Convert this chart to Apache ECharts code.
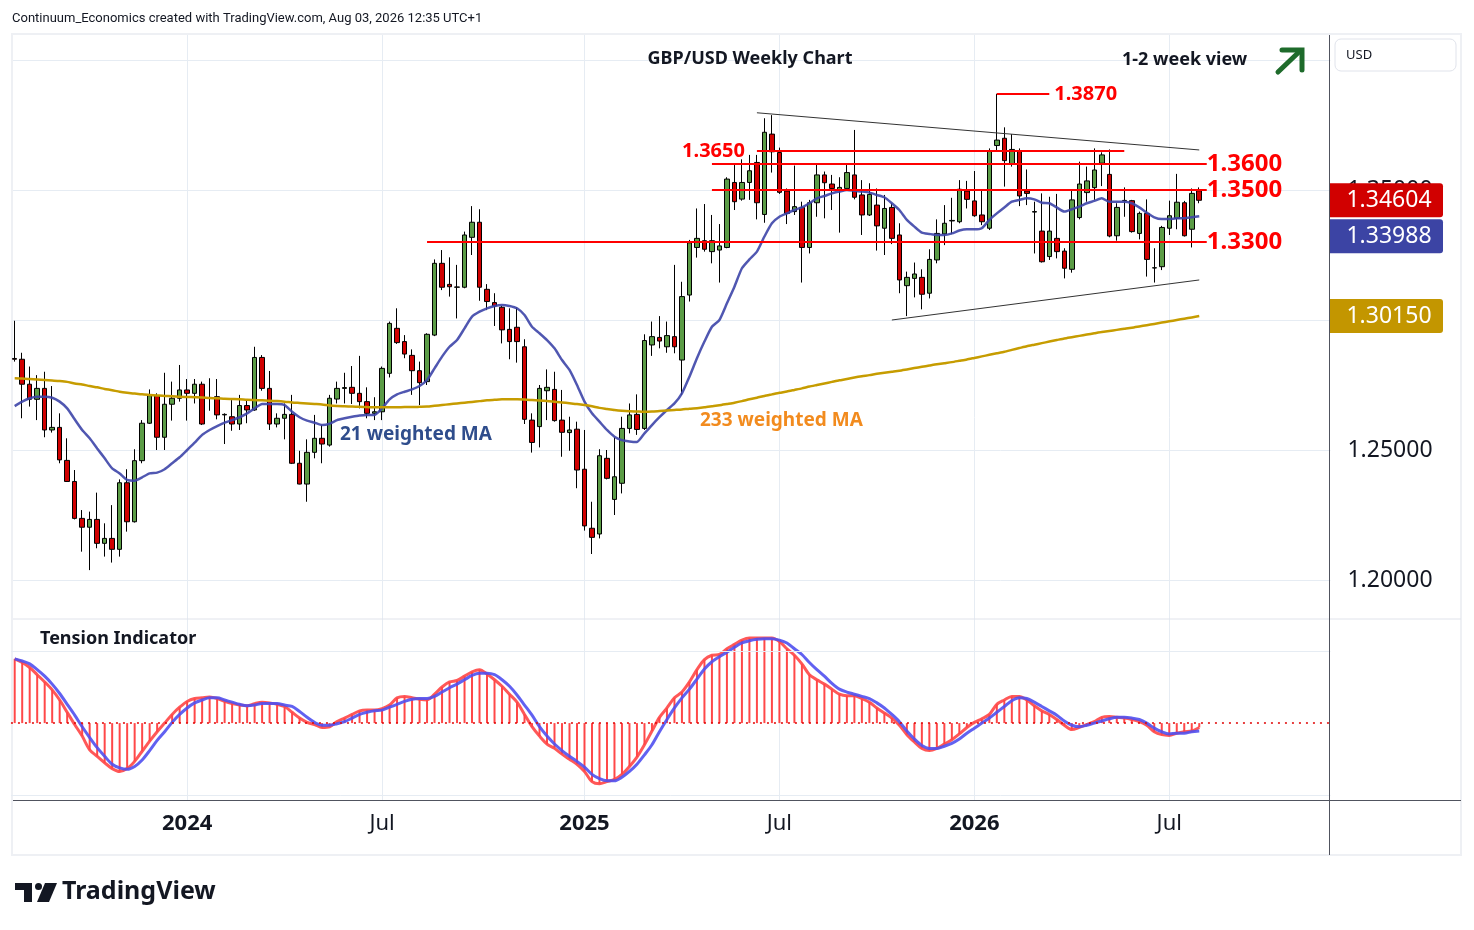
<!DOCTYPE html>
<html>
<head>
<meta charset="utf-8">
<title>GBP/USD Weekly Chart</title>
<script src="https://cdn.jsdelivr.net/npm/echarts@6/dist/echarts.min.js"></script>
<style>
  html, body { margin: 0; padding: 0; background: #fff; }
  #chart { width: 1474px; height: 930px; }
</style>
</head>
<body>
<div id="chart"></div>
<script>
// weekly candles, first week starts 2023-07-24
const opens = [
  1.2852,1.2849,1.2753,1.2695,1.2737,1.2577,1.2587,1.2460,1.2379,1.2237,
  1.2203,1.2233,1.2141,1.2160,1.2118,1.2374,1.2224,1.2459,1.2603,1.2709,
  1.2549,1.2676,1.2699,1.2731,1.2718,1.2753,1.2700,1.2705,1.2635,1.2628,
  1.2600,1.2671,1.2654,1.2856,1.2737,1.2600,1.2622,1.2637,1.2449,1.2369,
  1.2491,1.2545,1.2519,1.2696,1.2737,1.2741,1.2718,1.2686,1.2641,1.2647,
  1.2795,1.2968,1.2917,1.2864,1.2805,1.2763,1.2942,1.3218,1.3137,1.3126,
  1.3126,1.3318,1.3376,1.3118,1.3067,1.3049,1.2964,1.2972,1.2897,1.2615,
  1.2590,1.2728,1.2733,1.2615,1.2567,1.2580,1.2426,1.2199,1.2177,1.2468,
  1.2310,1.2372,1.2583,1.2637,1.2583,1.2904,1.2933,1.2897,1.2936,1.2846,
  1.3096,1.3279,1.3305,1.3263,1.3269,1.3279,1.3529,1.3465,1.3529,1.3606,
  1.3406,1.3715,1.3644,1.3496,1.3417,1.3433,1.3279,1.3451,1.3558,1.3523,
  1.3500,1.3506,1.3558,1.3481,1.3404,1.3442,1.3353,1.3433,1.3327,1.3132,
  1.3160,1.3164,1.3103,1.3231,1.3331,1.3381,1.3378,1.3496,1.3458,1.3404,
  1.3353,1.3671,1.3699,1.3599,1.3650,1.3496,1.3415,1.3342,1.3244,1.3314,
  1.3265,1.3195,1.3394,1.3490,1.3509,1.3603,1.3560,1.3324,1.3459,1.3459,
  1.3333,1.3410,1.3200,1.3205,1.3353,1.3391,1.3451,1.3349,1.3497
];
const closes = [
  1.2849,1.2753,1.2695,1.2737,1.2577,1.2587,1.2462,1.2379,1.2237,1.2203,
  1.2233,1.2141,1.2160,1.2118,1.2374,1.2224,1.2459,1.2603,1.2709,1.2549,
  1.2676,1.2699,1.2731,1.2718,1.2753,1.2600,1.2702,1.2635,1.2637,1.2600,
  1.2671,1.2654,1.2856,1.2737,1.2600,1.2622,1.2637,1.2449,1.2369,1.2491,
  1.2545,1.2523,1.2699,1.2737,1.2740,1.2718,1.2686,1.2641,1.2647,1.2814,
  1.2987,1.2913,1.2869,1.2805,1.2759,1.2945,1.3218,1.3126,1.3128,1.3127,
  1.3327,1.3376,1.3126,1.3071,1.3054,1.2962,1.2917,1.2917,1.2618,1.2529,
  1.2737,1.2741,1.2613,1.2568,1.2577,1.2423,1.2208,1.2164,1.2478,1.2391,
  1.2397,1.2583,1.2635,1.2579,1.2921,1.2936,1.2919,1.2940,1.2897,1.3090,
  1.3297,1.3314,1.3272,1.3305,1.3285,1.3542,1.3455,1.3529,1.3574,1.3451,
  1.3722,1.3647,1.3491,1.3410,1.3436,1.3279,1.3451,1.3558,1.3528,1.3506,
  1.3510,1.3567,1.3472,1.3404,1.3483,1.3362,1.3429,1.3314,1.3154,1.3164,
  1.3177,1.3099,1.3233,1.3333,1.3372,1.3383,1.3503,1.3464,1.3401,1.3378,
  1.3650,1.3692,1.3613,1.3656,1.3477,1.3487,1.3417,1.3224,1.3342,1.3263,
  1.3199,1.3462,1.3523,1.3535,1.3577,1.3635,1.3323,1.3433,1.3460,1.3340,
  1.3410,1.3233,1.3201,1.3356,1.3401,1.3453,1.3324,1.3487,1.34604
];
const lows = [
  1.2840,1.2622,1.2667,1.2615,1.2549,1.2567,1.2449,1.2377,1.2233,1.2109,
  1.2038,1.2122,1.2090,1.2067,1.2090,1.2186,1.2221,1.2449,1.2600,1.2500,
  1.2500,1.2613,1.2686,1.2613,1.2679,1.2596,1.2651,1.2618,1.2523,1.2574,
  1.2577,1.2603,1.2651,1.2728,1.2577,1.2587,1.2541,1.2446,1.2368,1.2301,
  1.2468,1.2449,1.2513,1.2679,1.2679,1.2677,1.2660,1.2622,1.2615,1.2615,
  1.2779,1.2908,1.2853,1.2712,1.2673,1.2750,1.2938,1.3115,1.3090,1.3006,
  1.3122,1.3250,1.3074,1.3038,1.2977,1.2910,1.2849,1.2836,1.2600,1.2490,
  1.2510,1.2615,1.2609,1.2474,1.2497,1.2353,1.2190,1.2100,1.2160,1.2387,
  1.2250,1.2333,1.2564,1.2558,1.2577,1.2862,1.2891,1.2874,1.2872,1.2712,
  1.3071,1.3240,1.3263,1.3218,1.3144,1.3276,1.3423,1.3459,1.3462,1.3387,
  1.3374,1.3567,1.3485,1.3369,1.3404,1.3144,1.3256,1.3397,1.3391,1.3423,
  1.3336,1.3497,1.3464,1.3327,1.3400,1.3267,1.3250,1.3292,1.3103,1.3015,
  1.3087,1.3041,1.3083,1.3218,1.3288,1.3330,1.3372,1.3429,1.3397,1.3365,
  1.3346,1.3647,1.3513,1.3590,1.3438,1.3442,1.3256,1.3221,1.3231,1.3237,
  1.3160,1.3182,1.3387,1.3455,1.3462,1.3515,1.3318,1.3305,1.3397,1.3336,
  1.3310,1.3167,1.3144,1.3192,1.3327,1.3349,1.3321,1.3279,1.3449
];
const highs = [
  1.2997,1.2874,1.2821,1.2788,1.2801,1.2746,1.2641,1.2545,1.2423,1.2269,
  1.2263,1.2336,1.2218,1.2288,1.2387,1.2426,1.2503,1.2615,1.2733,1.2718,
  1.2797,1.2763,1.2827,1.2773,1.2773,1.2763,1.2776,1.2773,1.2641,1.2692,
  1.2712,1.2692,1.2897,1.2865,1.2804,1.2641,1.2679,1.2712,1.2497,1.2541,
  1.2635,1.2596,1.2712,1.2763,1.2797,1.2823,1.2862,1.2741,1.2703,1.2821,
  1.2994,1.3045,1.2942,1.2887,1.2840,1.2949,1.3233,1.3269,1.3241,1.3212,
  1.3340,1.3438,1.3426,1.3138,1.3103,1.3054,1.3045,1.3049,1.2926,1.2641,
  1.2750,1.2810,1.2801,1.2731,1.2628,1.2609,1.2577,1.2301,1.2503,1.2500,
  1.2549,1.2628,1.2679,1.2714,1.2945,1.2994,1.3015,1.2994,1.3212,1.3147,
  1.3308,1.3429,1.3446,1.3404,1.3369,1.3549,1.3596,1.3618,1.3635,1.3635,
  1.3776,1.3788,1.3663,1.3506,1.3594,1.3455,1.3462,1.3603,1.3571,1.3558,
  1.3549,1.3596,1.3731,1.3538,1.3526,1.3506,1.3481,1.3449,1.3372,1.3186,
  1.3221,1.3195,1.3272,1.3387,1.3442,1.3470,1.3538,1.3535,1.3573,1.3500,
  1.3660,1.3870,1.3741,1.3715,1.3660,1.3579,1.3455,1.3487,1.3474,1.3485,
  1.3276,1.3500,1.3609,1.3590,1.3660,1.3645,1.3656,1.3449,1.3510,1.3462,
  1.3417,1.3464,1.3276,1.3362,1.3459,1.3562,1.3458,1.3506,1.3510
];

// 21 and 233 weighted moving averages
const wma21 = [
  1.2669,1.2686,1.2699,1.2705,1.2705,1.2701,1.2686,1.2660,1.2618,1.2577,
  1.2545,1.2506,1.2468,1.2429,1.2410,1.2385,1.2382,1.2395,1.2410,1.2413,
  1.2426,1.2449,1.2472,1.2500,1.2528,1.2558,1.2577,1.2592,1.2605,1.2615,
  1.2626,1.2641,1.2660,1.2677,1.2677,1.2677,1.2673,1.2647,1.2626,1.2613,
  1.2605,1.2596,1.2601,1.2615,1.2622,1.2628,1.2633,1.2635,1.2635,1.2660,
  1.2695,1.2714,1.2724,1.2733,1.2746,1.2769,1.2814,1.2859,1.2897,1.2923,
  1.2968,1.3013,1.3032,1.3045,1.3054,1.3058,1.3054,1.3045,1.3019,1.2974,
  1.2949,1.2923,1.2891,1.2846,1.2808,1.2750,1.2686,1.2641,1.2609,1.2577,
  1.2551,1.2538,1.2533,1.2531,1.2564,1.2596,1.2626,1.2654,1.2679,1.2718,
  1.2782,1.2853,1.2917,1.2974,1.3000,1.3064,1.3128,1.3199,1.3233,1.3263,
  1.3321,1.3372,1.3397,1.3410,1.3423,1.3433,1.3449,1.3468,1.3477,1.3487,
  1.3494,1.3500,1.3497,1.3494,1.3490,1.3481,1.3472,1.3449,1.3423,1.3385,
  1.3359,1.3336,1.3331,1.3327,1.3327,1.3333,1.3344,1.3349,1.3349,1.3353,
  1.3385,1.3410,1.3433,1.3455,1.3462,1.3468,1.3464,1.3451,1.3449,1.3433,
  1.3417,1.3426,1.3436,1.3449,1.3458,1.3468,1.3455,1.3455,1.3455,1.3449,
  1.3433,1.3413,1.3395,1.3388,1.3388,1.3391,1.3391,1.3395,1.33988
];
const wma233 = [
  1.2776,1.2775,1.2773,1.2771,1.2769,1.2767,1.2765,1.2762,1.2756,1.2752,
  1.2746,1.2741,1.2735,1.2730,1.2724,1.2720,1.2717,1.2714,1.2712,1.2710,
  1.2708,1.2707,1.2705,1.2704,1.2703,1.2702,1.2700,1.2699,1.2697,1.2696,
  1.2695,1.2693,1.2692,1.2691,1.2689,1.2688,1.2686,1.2683,1.2681,1.2679,
  1.2677,1.2675,1.2671,1.2669,1.2668,1.2667,1.2666,1.2665,1.2664,1.2664,
  1.2664,1.2664,1.2665,1.2665,1.2666,1.2667,1.2670,1.2673,1.2676,1.2679,
  1.2682,1.2685,1.2688,1.2691,1.2693,1.2695,1.2695,1.2695,1.2694,1.2692,
  1.2690,1.2688,1.2686,1.2683,1.2680,1.2677,1.2673,1.2668,1.2662,1.2658,
  1.2654,1.2651,1.2649,1.2648,1.2647,1.2648,1.2650,1.2652,1.2654,1.2656,
  1.2659,1.2661,1.2664,1.2668,1.2672,1.2677,1.2682,1.2688,1.2695,1.2701,
  1.2708,1.2714,1.2720,1.2725,1.2731,1.2737,1.2744,1.2750,1.2756,1.2762,
  1.2768,1.2773,1.2779,1.2784,1.2788,1.2793,1.2797,1.2801,1.2805,1.2810,
  1.2815,1.2820,1.2825,1.2830,1.2834,1.2838,1.2843,1.2848,1.2854,1.2860,
  1.2866,1.2872,1.2878,1.2885,1.2892,1.2899,1.2905,1.2911,1.2917,1.2923,
  1.2929,1.2934,1.2939,1.2944,1.2949,1.2954,1.2958,1.2962,1.2966,1.2970,
  1.2975,1.2980,1.2985,1.2990,1.2995,1.3000,1.3005,1.3010,1.30150
];

// Tension indicator and its signal line
const tension = [
  0.89,0.84,0.77,0.67,0.57,0.46,0.32,0.15,-0.02,-0.18,
  -0.37,-0.46,-0.55,-0.63,-0.67,-0.63,-0.53,-0.39,-0.25,-0.12,
  0.00,0.12,0.22,0.30,0.34,0.35,0.36,0.34,0.30,0.27,
  0.25,0.24,0.27,0.29,0.28,0.26,0.23,0.15,0.07,0.01,
  -0.02,-0.06,-0.05,0.02,0.07,0.12,0.17,0.18,0.18,0.20,
  0.25,0.35,0.37,0.35,0.33,0.32,0.40,0.50,0.57,0.59,
  0.65,0.71,0.74,0.68,0.60,0.51,0.40,0.29,0.12,-0.05,
  -0.18,-0.29,-0.35,-0.43,-0.50,-0.57,-0.67,-0.81,-0.84,-0.81,
  -0.78,-0.71,-0.60,-0.47,-0.30,-0.11,0.08,0.21,0.35,0.43,
  0.57,0.74,0.88,0.94,0.95,1.03,1.09,1.15,1.18,1.18,
  1.18,1.18,1.13,1.03,0.94,0.82,0.67,0.60,0.54,0.47,
  0.40,0.38,0.38,0.34,0.29,0.21,0.14,0.07,-0.03,-0.16,
  -0.26,-0.35,-0.38,-0.35,-0.29,-0.23,-0.15,-0.06,0.01,0.06,
  0.12,0.26,0.32,0.37,0.37,0.32,0.24,0.17,0.12,0.05,
  -0.03,-0.09,-0.06,-0.02,0.02,0.08,0.09,0.08,0.07,0.05,
  0.02,-0.03,-0.12,-0.16,-0.17,-0.14,-0.12,-0.11,-0.06
];
const signal = [
  0.89,0.86,0.82,0.74,0.65,0.54,0.41,0.26,0.11,-0.05,
  -0.20,-0.34,-0.46,-0.57,-0.62,-0.64,-0.60,-0.51,-0.38,-0.24,
  -0.12,0.01,0.12,0.21,0.28,0.32,0.35,0.35,0.32,0.29,
  0.26,0.24,0.25,0.27,0.27,0.27,0.25,0.23,0.16,0.08,
  0.01,-0.03,-0.03,-0.01,0.02,0.07,0.12,0.15,0.17,0.18,
  0.22,0.26,0.30,0.33,0.34,0.34,0.37,0.43,0.49,0.54,
  0.60,0.66,0.69,0.69,0.67,0.60,0.51,0.39,0.25,0.11,
  -0.05,-0.18,-0.29,-0.38,-0.46,-0.53,-0.61,-0.71,-0.77,-0.80,
  -0.80,-0.75,-0.67,-0.57,-0.44,-0.30,-0.12,0.05,0.21,0.35,
  0.47,0.61,0.75,0.85,0.92,0.98,1.05,1.11,1.14,1.16,
  1.17,1.17,1.15,1.11,1.03,0.95,0.84,0.74,0.65,0.55,
  0.47,0.43,0.40,0.37,0.34,0.28,0.21,0.12,0.02,-0.11,
  -0.22,-0.31,-0.35,-0.35,-0.32,-0.28,-0.22,-0.14,-0.07,0.00,
  0.07,0.15,0.23,0.31,0.35,0.34,0.29,0.23,0.17,0.11,
  0.03,-0.03,-0.05,-0.03,0.00,0.03,0.06,0.08,0.08,0.07,
  0.05,0.00,-0.07,-0.12,-0.15,-0.14,-0.14,-0.12,-0.11
];

// drawn levels and channel lines
const levelValues = [1.3300, 1.3500, 1.3600, 1.3650, 1.3870];
const upperTrend = [1.3797, 1.3654];
const lowerTrend = [1.3000, 1.3154];
const priceTicks = [1.20, 1.45];

const FONT = '"Noto Sans", "Open Sans", sans-serif';
const TOTAL_WEEKS = 176; // room on the right like TradingView

const categories = [];
for (let i = 0; i < TOTAL_WEEKS; i++) {
  const d = new Date(Date.UTC(2023, 6, 24 + 7 * i));
  categories.push(d.toISOString().slice(0, 10));
}
const isLabelWeek = (idx, val) => {
  const m = +val.slice(5, 7), day = +val.slice(8, 10);
  return (m === 1 || m === 7) && day <= 7;
};

const candleData = opens.map((o, i) => [o, closes[i], lows[i], highs[i]]);
const last = opens.length - 1;

const left = 10.95;
const width = 1319.5;

const redLine = { color: '#ff0000', width: 2, type: 'solid' };
const trendStyle = { color: '#333', width: 1, type: 'solid' };
const rightLabel = {
  show: true, position: 'end', distance: 0, color: '#ff0000',
  fontSize: 24, fontWeight: 'bold', fontFamily: FONT
};
const smallLabel = {
  show: true, color: '#ff0000', fontSize: 20, fontWeight: 'bold', fontFamily: FONT
};

const level = (v, from, to, label) => [
  { coord: [from, v], lineStyle: redLine, label: Object.assign({ formatter: v.toFixed(4) }, label) },
  { coord: [to, v] }
];

const chart = echarts.init(document.getElementById('chart'));

chart.setOption({
  animation: false,
  backgroundColor: '#fff',
  grid: [
    { left: left, width: width, top: -70, height: 650, outerBoundsMode: 'none', containLabel: false },
    { left: left, width: width, top: 620, height: 180, outerBoundsMode: 'none', containLabel: false },
    { left: 14.7, width: 1312, top: 35, height: 765, outerBoundsMode: 'none', containLabel: false }
  ],
  xAxis: [
    { gridIndex: 0, type: 'category', data: categories, boundaryGap: true, show: false },
    { gridIndex: 1, type: 'category', data: categories, boundaryGap: true, show: false },
    {
      gridIndex: 2, type: 'category', data: categories, boundaryGap: false,
      axisLine: { show: false },
      axisTick: { show: false },
      axisLabel: {
        interval: isLabelWeek,
        margin: 13,
        formatter: val => val.slice(5, 7) === '01' ? '{y|' + val.slice(0, 4) + '}' : '{m|Jul}',
        rich: {
          y: { fontSize: 22, fontWeight: 'bold', color: '#131722', fontFamily: FONT },
          m: { fontSize: 22, color: '#131722', fontFamily: FONT }
        }
      },
      splitLine: { show: true, interval: isLabelWeek, lineStyle: { color: '#e6ecf3', width: 1 } }
    }
  ],
  yAxis: [
    {
      gridIndex: 0, type: 'value', position: 'right',
      min: priceTicks[0], max: priceTicks[1], interval: 0.05,
      axisLine: { show: false }, axisTick: { show: false },
      axisLabel: {
        formatter: v => v.toFixed(5), fontSize: 23, color: '#131722',
        margin: 17, fontFamily: FONT
      },
      splitLine: { lineStyle: { color: '#e6ecf3', width: 1 } }
    },
    { gridIndex: 1, type: 'value', min: -1.065, max: 1.428, show: false },
    { gridIndex: 2, type: 'value', min: 0, max: 1, show: false }
  ],
  series: [
    {
      type: 'candlestick',
      xAxisIndex: 0, yAxisIndex: 0,
      data: candleData,
      barWidth: 5,
      itemStyle: {
        color: '#5b9c46', color0: '#d00000',
        borderColor: '#000', borderColor0: '#000', borderColorDoji: '#000',
        borderWidth: 1
      },
      z: 2,
      markLine: {
        silent: true, symbol: ['none', 'none'], animation: false,
        data: [
          level(levelValues[0], 55, 159, rightLabel),
          level(levelValues[1], 93, 159, rightLabel),
          level(levelValues[2], 93, 159, rightLabel),
          level(levelValues[3], 99, 148, Object.assign({ position: 'start', distance: 12 }, smallLabel)),
          level(levelValues[4], 131, 138, Object.assign({ position: 'end', distance: 5 }, smallLabel)),
          [
            { coord: [99, upperTrend[0]], lineStyle: trendStyle, label: { show: false } },
            { coord: [158, upperTrend[1]] }
          ],
          [
            { coord: [117, lowerTrend[0]], lineStyle: trendStyle, label: { show: false } },
            { coord: [158, lowerTrend[1]] }
          ]
        ]
      }
    },
    {
      type: 'line', name: '21 WMA', xAxisIndex: 0, yAxisIndex: 0,
      data: wma21, showSymbol: false, smooth: 0.2, z: 4,
      lineStyle: { color: '#3d45a8', width: 2.5, opacity: 0.9 }
    },
    {
      type: 'line', name: '233 WMA', xAxisIndex: 0, yAxisIndex: 0,
      data: wma233, showSymbol: false, smooth: 0.2, z: 4,
      lineStyle: { color: '#c69c00', width: 2.5 }
    },
    {
      type: 'bar', name: 'Tension hist', xAxisIndex: 1, yAxisIndex: 1,
      data: tension, barWidth: 2,
      itemStyle: { color: 'rgba(255,40,40,0.85)' },
      markLine: {
        silent: true, symbol: ['none', 'none'], animation: false,
        label: { show: false },
        data: [
          { yAxis: 0, lineStyle: { color: '#e00000', width: 1.5, type: [2, 5] } },
          { yAxis: 1, lineStyle: { color: '#e6ecf3', width: 1, type: 'solid' } },
          { yAxis: -1, lineStyle: { color: '#e6ecf3', width: 1, type: 'solid' } }
        ]
      }
    },
    {
      type: 'line', name: 'Tension', xAxisIndex: 1, yAxisIndex: 1,
      data: tension, showSymbol: false, smooth: 0.3, z: 3,
      lineStyle: { color: 'rgba(255,70,70,0.9)', width: 3 }
    },
    {
      type: 'line', name: 'Signal', xAxisIndex: 1, yAxisIndex: 1,
      data: signal, showSymbol: false, smooth: 0.3, z: 4,
      lineStyle: { color: 'rgba(80,80,240,0.9)', width: 3 }
    }
  ]
});

// last-value tags on the price scale
const yOf = v => chart.convertToPixel({ yAxisIndex: 0 }, v);
const tags = [
  { value: closes[last], color: '#d10000' },
  { value: wma21[last], color: '#3c44a4' },
  { value: wma233[last], color: '#c39600' }
];
const tagH = 34;
let prevY = -1000;
const tagGraphics = [];
tags.forEach((t, i) => {
  let y = yOf(t.value);
  if (y - prevY < tagH + 2) y = prevY + tagH + 2;
  prevY = y;
  tagGraphics.push({
    id: 'tagbox' + i, type: 'rect', z: 100,
    shape: { x: 1330, y: y - tagH / 2, width: 113, height: tagH, r: [0, 3, 3, 0] },
    style: { fill: t.color }
  });
  tagGraphics.push({
    id: 'tagtext' + i, type: 'text', z: 101, x: 1389, y: y,
    style: {
      text: t.value.toFixed(5), fill: '#fff', font: '23px ' + FONT,
      align: 'center', verticalAlign: 'middle'
    }
  });
});

const txt = (id, text, x, y, font, fill, align, z) => ({
  id: id, type: 'text', x: x, y: y, z: z || 50,
  style: { text: text, font: font, fill: fill || '#131722', align: align || 'left', verticalAlign: 'middle' }
});

chart.setOption({
  graphic: {
    elements: [
      // frame
      { id: 'frame', type: 'rect', z: 0, silent: true,
        shape: { x: 12, y: 34, width: 1449, height: 821 },
        style: { fill: null, stroke: '#eef0f4', lineWidth: 2 } },
      { id: 'paneSep', type: 'line', z: 60, shape: { x1: 13, y1: 619, x2: 1461, y2: 619 },
        style: { stroke: '#e0e3eb', lineWidth: 1 } },
      { id: 'timeLine', type: 'line', z: 60, shape: { x1: 13, y1: 800.5, x2: 1461, y2: 800.5 },
        style: { stroke: '#50535e', lineWidth: 1 } },
      { id: 'priceLine', type: 'line', z: 60, shape: { x1: 1329.5, y1: 35, x2: 1329.5, y2: 855 },
        style: { stroke: '#50535e', lineWidth: 1 } },
      // currency box
      { id: 'usdBox', type: 'rect', z: 90,
        shape: { x: 1335, y: 39, width: 121, height: 32, r: 6 },
        style: { fill: '#fff', stroke: '#e0e3eb', lineWidth: 1 } },
      txt('usdText', 'USD', 1346, 55, '13px ' + FONT, '#131722', 'left', 95),
      // texts
      txt('header', 'Continuum_Economics created with TradingView.com, Aug 03, 2026 12:35 UTC+1',
        12, 19, '13px Roboto, ' + FONT),
      txt('title', 'GBP/USD Weekly Chart', 750, 59, 'bold 18px ' + FONT, '#131722', 'center'),
      txt('view', '1-2 week view', 1122, 60, 'bold 18px ' + FONT),
      txt('tension', 'Tension Indicator', 40, 639, 'bold 18px ' + FONT),
      txt('ma21', '21 weighted MA', 340, 435, 'bold 19px ' + FONT, '#2f4d8c'),
      txt('ma233', '233 weighted MA', 700, 421, 'bold 19px ' + FONT, '#f28b1e'),
      // arrow
      { id: 'arrowShaft', type: 'line', z: 50, shape: { x1: 1278, y1: 72, x2: 1300, y2: 51 },
        style: { stroke: '#1e6b2b', lineWidth: 5, lineCap: 'round' } },
      { id: 'arrowHead', type: 'polyline', z: 50,
        shape: { points: [[1282, 50], [1302, 50], [1302, 70]] },
        style: { stroke: '#1e6b2b', lineWidth: 5, fill: null, lineJoin: 'miter', lineCap: 'round' } },
      // TradingView logo
      { id: 'logoT1', type: 'rect', z: 50, shape: { x: 15, y: 883, width: 17, height: 7 }, style: { fill: '#131722' } },
      { id: 'logoT2', type: 'rect', z: 50, shape: { x: 24, y: 883, width: 8, height: 19 }, style: { fill: '#131722' } },
      { id: 'logoDot', type: 'circle', z: 50, shape: { cx: 38.5, cy: 886.5, r: 3.5 }, style: { fill: '#131722' } },
      { id: 'logoSlash', type: 'polygon', z: 50,
        shape: { points: [[45, 883], [57, 883], [49, 902], [37, 902]] }, style: { fill: '#131722' } },
      txt('logoText', 'TradingView', 62, 892, 'bold 25px ' + FONT)
    ].concat(tagGraphics)
  }
});
</script>
</body>
</html>
